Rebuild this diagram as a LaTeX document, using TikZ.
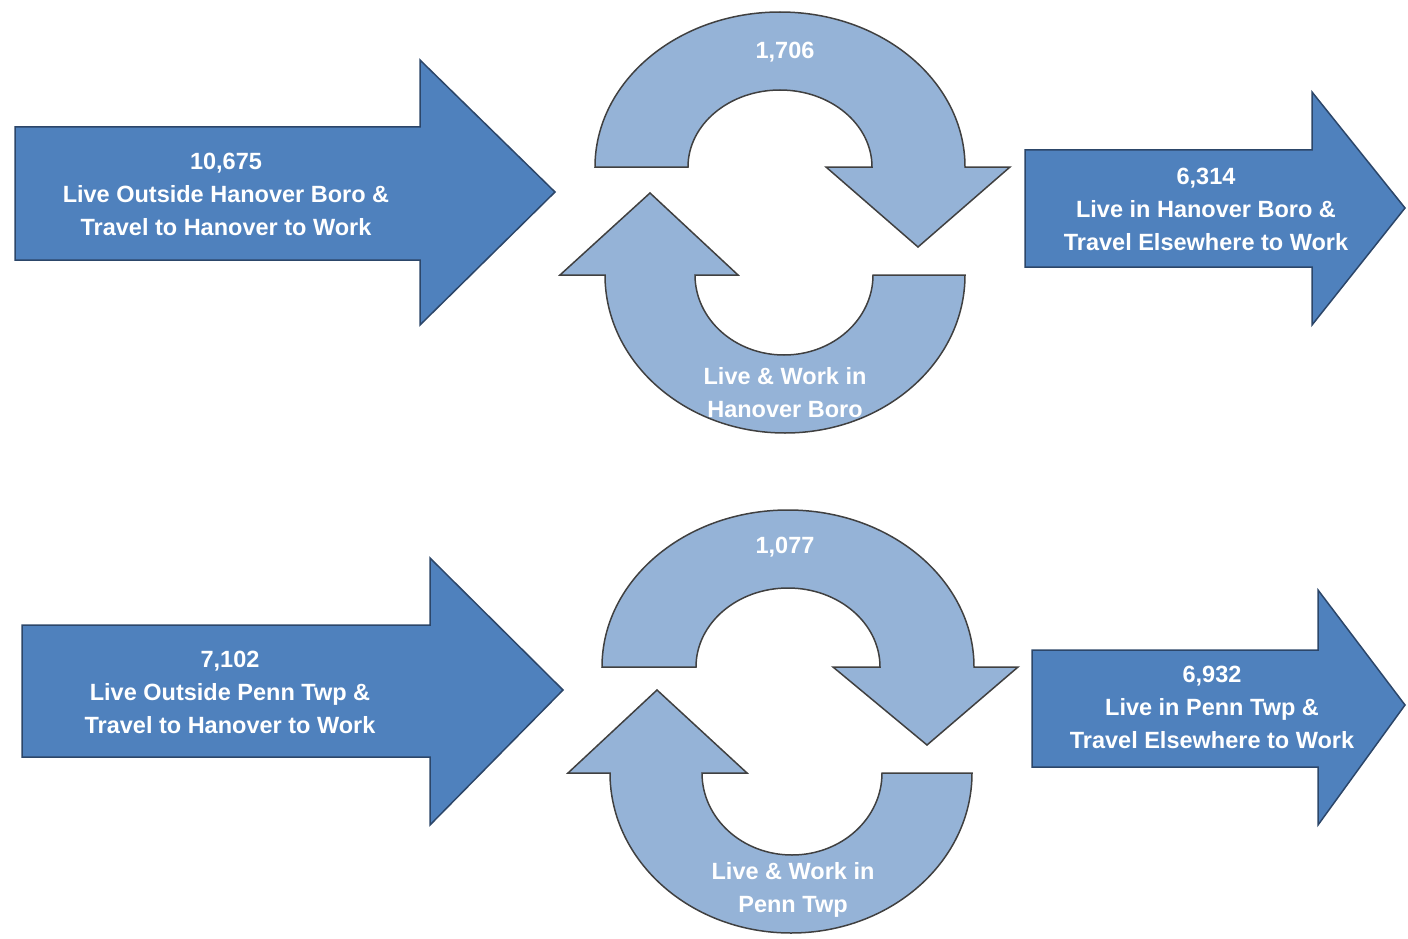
\documentclass[tikz,border=0pt]{standalone}
\usepackage{fontspec}
\setmainfont{Liberation Sans}
\definecolor{flowblue}{RGB}{79,129,189}
\definecolor{flowedge}{RGB}{44,70,105}
\definecolor{loopblue}{RGB}{149,179,215}
\tikzset{
  flow arrow/.style={fill=flowblue, draw=flowedge, line width=1.5pt, line join=miter},
  loop arrow/.style={fill=loopblue, draw=black!75, line width=1.5pt, line join=miter},
  flow text/.style={text=white, font=\bfseries\fontsize{23.5}{33}\selectfont, align=center, inner sep=0pt},
}

\begin{document}
\begin{tikzpicture}[x=1pt, y=-1pt]
    \useasboundingbox (0,0) rectangle (1408,939);
    % Hanover Boro
    \path[flow arrow] (15,127) -- (420,127) -- (420,60) -- (555,192) -- (420,325) -- (420,260) -- (15,260) -- cycle;
    \path[flow arrow] (1025,150) -- (1312,150) -- (1312,92) -- (1405,208) -- (1312,325) -- (1312,267) -- (1025,267) -- cycle;
    \path[loop arrow] (595,167) arc[start angle=180, end angle=0, x radius=185pt, y radius=155pt]
      -- (1010,167) -- (918,247) -- (826,167) -- (872,167)
      arc[start angle=0, end angle=180, x radius=92pt, y radius=77pt] -- cycle;
    \path[loop arrow] (965,275) arc[start angle=0, end angle=-180, x radius=180pt, y radius=158pt]
      -- (560,275) -- (650,193) -- (738,275) -- (695,275)
      arc[start angle=-180, end angle=0, x radius=89pt, y radius=80pt] -- cycle;
    \node (boroin) [flow text] at (226,194) {10,675\\Live Outside Hanover Boro \&\\Travel to Hanover to Work};
    \node (boroout) [flow text] at (1206,209) {6,314\\Live in Hanover Boro \&\\Travel Elsewhere to Work};
    \node (borocount) [flow text] at (785,52) {1,706};
    \node (borostay) [flow text] at (785,393) {Live \& Work in\\Hanover Boro};
    % Penn Twp
    \path[flow arrow] (22,625) -- (430,625) -- (430,558) -- (563,690) -- (430,825) -- (430,757) -- (22,757) -- cycle;
    \path[flow arrow] (1032,650) -- (1318,650) -- (1318,590) -- (1405,705) -- (1318,825) -- (1318,767) -- (1032,767) -- cycle;
    \path[loop arrow] (602,667) arc[start angle=180, end angle=0, x radius=186pt, y radius=157pt]
      -- (1018,667) -- (927,745) -- (833,667) -- (880,667)
      arc[start angle=0, end angle=180, x radius=92pt, y radius=79pt] -- cycle;
    \path[loop arrow] (972,773) arc[start angle=0, end angle=-180, x radius=181pt, y radius=160pt]
      -- (568,773) -- (657,690) -- (747,773) -- (702,773)
      arc[start angle=-180, end angle=0, x radius=90pt, y radius=82pt] -- cycle;
    \node (pennin) [flow text] at (230,692) {7,102\\Live Outside Penn Twp \&\\Travel to Hanover to Work};
    \node (pennout) [flow text] at (1212,707) {6,932\\Live in Penn Twp \&\\Travel Elsewhere to Work};
    \node (penncount) [flow text] at (785,547) {1,077};
    \node (pennstay) [flow text] at (793,890) {Live \& Work in\\Penn Twp};
  \end{tikzpicture}
\end{document}
